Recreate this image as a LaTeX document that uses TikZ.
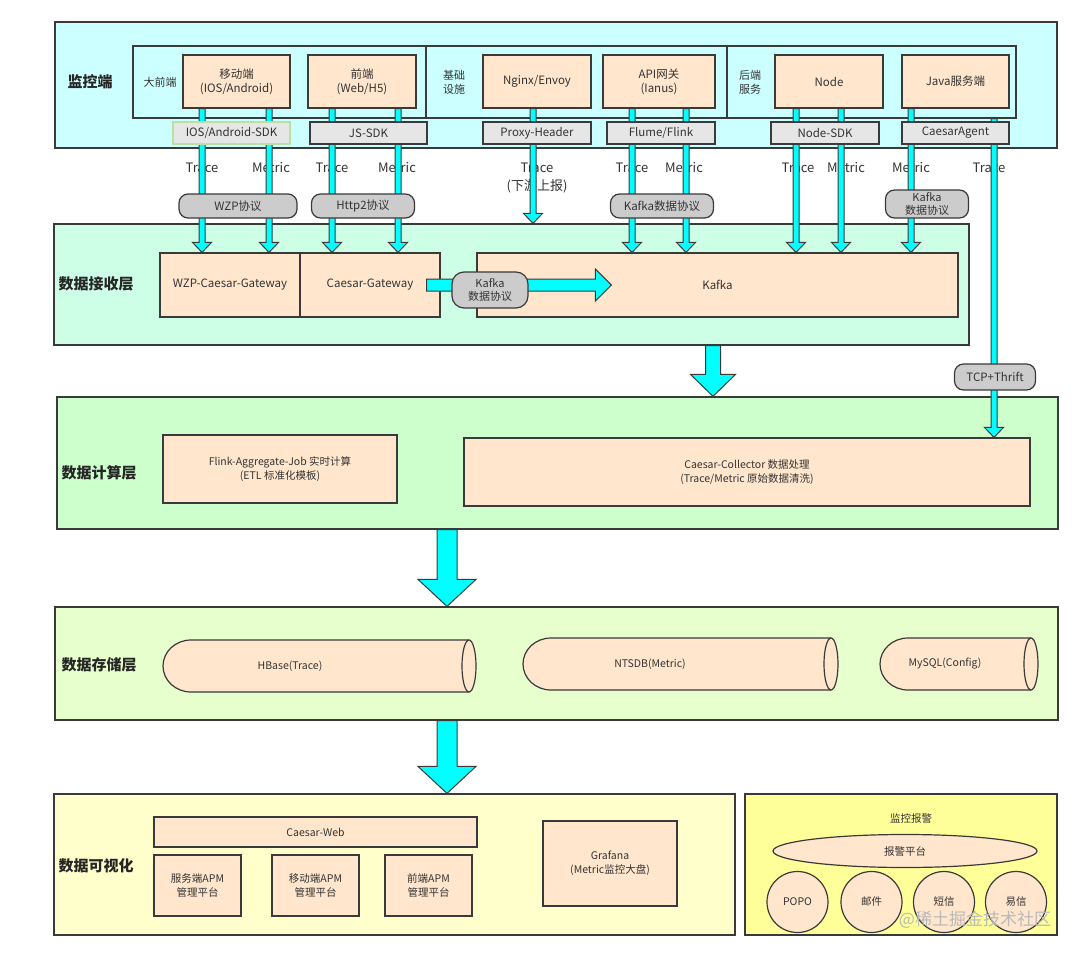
\documentclass[tikz,border=0pt]{standalone}
\usepackage{fontspec}
\setmainfont{Noto Sans CJK SC}
\usetikzlibrary{calc,shapes.geometric}
\definecolor{bd}{HTML}{3A3A3A}
\definecolor{lA}{HTML}{CCFFFF}
\definecolor{lB}{HTML}{CCFFE6}
\definecolor{lC}{HTML}{CCFFCC}
\definecolor{lD}{HTML}{E6FFCC}
\definecolor{lE}{HTML}{FFFFCC}
\definecolor{lF}{HTML}{FFFF99}
\definecolor{org}{HTML}{FFE6CC}
\definecolor{sdkc}{HTML}{E6E6E6}
\definecolor{pillc}{HTML}{CCCCCC}
\definecolor{cyc}{HTML}{00FFFF}
\definecolor{txt}{HTML}{333333}
\definecolor{sdkg}{HTML}{B9E0A5}
\newcommand\fA{\fontsize{11.5}{14}\selectfont}
\newcommand\fB{\fontsize{10.5}{13.5}\selectfont}
\newcommand\fT{\fontsize{15}{18}\selectfont\bfseries}
\newcommand\fL{\fontsize{13}{16}\selectfont}
% vertical block arrow: start, end, half shaft, half head, head length
\newcommand\varr[5]{%
  \filldraw[arr] let \p1=(#1), \p2=(#2) in
  (\x1-#3,\y1) -- (\x1+#3,\y1) -- (\x1+#3,\y2+#5) -- (\x1+#4,\y2+#5) --
  (\x1,\y2) -- (\x1-#4,\y2+#5) -- (\x1-#3,\y2+#5) -- cycle;}
% horizontal block arrow
\newcommand\harr[5]{%
  \filldraw[arr] let \p1=(#1), \p2=(#2) in
  (\x1,\y1+#3) -- (\x2-#5,\y1+#3) -- (\x2-#5,\y1+#4) -- (\x2,\y1) --
  (\x2-#5,\y1-#4) -- (\x2-#5,\y1-#3) -- (\x1,\y1-#3) -- cycle;}
% cylinder: name, x1, x2, ytop, ybot, text x, text
\newcommand\cyl[7]{%
  \pgfmathsetmacro\cyy{(#4+#5)/2}%
  \pgfmathsetmacro\ry{(#5-#4)/2}%
  \pgfmathsetmacro\xr{#3-7}%
  \pgfmathsetmacro\xl{#2+28}%
  \filldraw[cylst] (\xr,#4) -- (\xl,#4) .. controls (\xl-15.5,#4) and (#2,\cyy-0.5523*\ry) .. (#2,\cyy)
     .. controls (#2,\cyy+0.5523*\ry) and (\xl-15.5,#5) .. (\xl,#5) -- (\xr,#5);
  \filldraw[cylst] (\xr,\cyy) ellipse [x radius=7, y radius=\ry];
  \node[ctext] (#1) at (#6,\cyy) {#7};}
\begin{document}
\begin{tikzpicture}[x=1pt,y=-1pt,
  layer/.style={draw=bd, line width=1.2pt, inner sep=0pt},
  ttl/.style={font=\fT, text=black!85},
  obox/.style={draw=bd, fill=org, line width=1.2pt, inner sep=0pt, align=center, font=\fA, text=txt},
  sbox/.style={draw=bd, fill=org, line width=1.2pt, inner sep=0pt, align=center, font=\fB, text=txt},
  sdk/.style={draw=bd, fill=sdkc, line width=1.2pt, inner sep=0pt, align=center, font=\fA, text=txt, minimum height=22},
  pill/.style={draw=bd, fill=pillc, line width=1.2pt, rounded corners=9pt, inner sep=0pt, align=center, font=\fA, text=txt},
  lbl/.style={font=\fL, text=txt, inner sep=0pt},
  sml/.style={font=\fB, text=txt, align=center, inner sep=0pt},
  arr/.style={fill=cyc, draw=bd, line width=1pt, line join=miter},
  cylst/.style={fill=org, draw=bd, line width=1.2pt},
  ctext/.style={font=\fB, text=txt, inner sep=0pt},
  circ/.style={circle, draw=bd, fill=org, line width=1.2pt, minimum size=61, inner sep=0pt, font=\fB, text=txt}
]
\useasboundingbox (0,0) rectangle (1080,956);
\fill[white] (0,0) rectangle (1080,956);

% ---------- layers ----------
\node[layer, fill=lA, minimum width=1002, minimum height=126] (L1) at (556,85) {};
\node[layer, fill=lB, minimum width=915, minimum height=121] (L2) at (511.5,284.5) {};
\node[layer, fill=lC, minimum width=1001, minimum height=132] (L3) at (557.5,463) {};
\node[layer, fill=lD, minimum width=1003, minimum height=113] (L4) at (556.5,663.5) {};
\node[layer, fill=lE, minimum width=681, minimum height=141] (L5) at (394.5,864.5) {};
\node[layer, fill=lF, minimum width=312, minimum height=141] (L6) at (901,864.5) {};

\node[ttl] (t1) at (90,82) {监控端};
\node[ttl] (t2) at (96,284) {数据接收层};
\node[ttl] (t3) at (99,473) {数据计算层};
\node[ttl] (t4) at (99,665) {数据存储层};
\node[ttl] (t5) at (96,866) {数据可视化};

% ---------- layer 1 ----------
\node[layer, minimum width=883, minimum height=72] (inner) at (574.5,82) {};
\coordinate (d1) at (426,0);
\coordinate (d2) at (727,0);
\draw[bd, line width=1.2pt] (d1 |- inner.north) -- (d1 |- inner.south);
\draw[bd, line width=1.2pt] (d2 |- inner.north) -- (d2 |- inner.south);

\node[sml, font=\fontsize{11}{14}\selectfont] (g1) at (160,82) {大前端};
\node[sml, font=\fontsize{11}{14}\selectfont] (g2) at (454,82) {基础\\设施};
\node[sml, font=\fontsize{11}{14}\selectfont] (g3) at (750,82) {后端\\服务};

\node[obox, minimum width=107, minimum height=53] (mob) at (236.5,81.5) {移动端\\(IOS/Android)};
\node[obox, minimum width=108, minimum height=53] (web) at (362,81.5) {前端\\(Web/H5)};
\node[obox, minimum width=108, minimum height=53] (ngx) at (537,81.5) {Nginx/Envoy};
\node[obox, minimum width=112, minimum height=53] (api) at (659,81.5) {API网关\\(Ianus)};
\node[obox, minimum width=108, minimum height=53] (nod) at (829,81.5) {Node};
\node[obox, minimum width=107, minimum height=53] (jav) at (955.5,81.5) {Java服务端};

% labels
\node[lbl] (la1) at (202,168) {Trace};
\node[lbl] (la2) at (271,168) {Metric};
\node[lbl] (la3) at (332,168) {Trace};
\node[lbl] (la4) at (397,168) {Metric};
\node[lbl] (la5) at (537,168) {Trace};
\node[lbl] (la5b) at (537,186) {(下游上报)};
\node[lbl] (la6) at (632,168) {Trace};
\node[lbl] (la7) at (684,168) {Metric};
\node[lbl] (la8) at (798,168) {Trace};
\node[lbl] (la9) at (846,168) {Metric};
\node[lbl] (la10) at (911,168) {Metric};
\node[lbl] (la11) at (989,168) {Trace};

% ---------- layer 2 ----------
\node[obox, minimum width=140, minimum height=64] (wzpgw) at (230,285) {WZP-Caesar-Gateway};
\node[obox, minimum width=140, minimum height=64] (cgw) at (370,285) {Caesar-Gateway};
\node[obox, minimum width=481, minimum height=64] (kafka) at (717.5,285) {Kafka};

% ---------- layer 3 ----------
\node[sbox, minimum width=234, minimum height=68] (flink) at (280,469) {Flink-Aggregate-Job 实时计算\\(ETL 标准化模板)};
\node[sbox, minimum width=566, minimum height=68] (coll) at (747,472) {Caesar-Collector 数据处理\\(Trace/Metric 原始数据清洗)};

% ---------- layer 4 ----------
\cyl{hbase}{163}{476}{640}{692}{290}{HBase(Trace)}
\cyl{ntsdb}{523}{838}{638}{690}{650}{NTSDB(Metric)}
\cyl{mysql}{880}{1038}{638}{690}{945}{MySQL(Config)}

% ---------- layer 5 ----------
\node[sbox, minimum width=323, minimum height=30] (cweb) at (315.5,832) {Caesar-Web};
\node[sbox, minimum width=87, minimum height=61] (apm1) at (197.5,885.5) {服务端APM\\管理平台};
\node[sbox, minimum width=87, minimum height=61] (apm2) at (315.5,885.5) {移动端APM\\管理平台};
\node[sbox, minimum width=87, minimum height=61] (apm3) at (428.5,885.5) {前端APM\\管理平台};
\node[sbox, minimum width=134, minimum height=85] (graf) at (610,863.5) {Grafana\\(Metric监控大盘)};

% ---------- layer 6 ----------
\node[sml] (t6) at (911,819) {监控报警};
\node[draw=bd, fill=org, line width=1.2pt, ellipse, minimum width=264, minimum height=33, inner sep=0pt, font=\fB, text=txt] (alarm) at (905,851) {报警平台};
\node[circ] (c1) at (797.5,902) {POPO};
\node[circ] (c2) at (871.5,902) {邮件};
\node[circ] (c3) at (944,902) {短信};
\node[circ] (c4) at (1016,902) {易信};

% ---------- thin arrows ----------
\coordinate (cA) at (202,0);
\coordinate (cB) at (269,0);
\coordinate (cC) at (332,0);
\coordinate (cD) at (398,0);
\coordinate (cE) at (533,0);
\coordinate (cF) at (632,0);
\coordinate (cG) at (686,0);
\coordinate (cH) at (796,0);
\coordinate (cI) at (841,0);
\coordinate (cJ) at (911,0);
\coordinate (cK) at (994,0);
\varr{cA |- mob.south}{cA |- wzpgw.north}{3pt}{9.5pt}{10pt}
\varr{cB |- mob.south}{cB |- wzpgw.north}{3pt}{9.5pt}{10pt}
\varr{cC |- web.south}{cC |- cgw.north}{3pt}{9.5pt}{10pt}
\varr{cD |- web.south}{cD |- cgw.north}{3pt}{9.5pt}{10pt}
\varr{cE |- ngx.south}{cE |- L2.north}{3pt}{9.5pt}{10pt}
\varr{cF |- api.south}{cF |- kafka.north}{3pt}{9.5pt}{10pt}
\varr{cG |- api.south}{cG |- kafka.north}{3pt}{9.5pt}{10pt}
\varr{cH |- nod.south}{cH |- kafka.north}{3pt}{9.5pt}{10pt}
\varr{cI |- nod.south}{cI |- kafka.north}{3pt}{9.5pt}{10pt}
\varr{cJ |- jav.south}{cJ |- kafka.north}{3pt}{9.5pt}{10pt}
\varr{cK |- inner.south}{cK |- coll.north}{3pt}{9.5pt}{10pt}

% SDK boxes over the shafts
\node[sdk, draw=sdkg, minimum width=117] (sM) at (231.5,133) {IOS/Android-SDK};
\node[sdk, minimum width=117] (sJ) at (368.5,133) {JS-SDK};
\node[sdk, minimum width=108] (sP) at (537,133) {Proxy-Header};
\node[sdk, minimum width=108] (sF) at (661,133) {Flume/Flink};
\node[sdk, minimum width=108] (sN) at (825,133) {Node-SDK};
\node[sdk, minimum width=107] (sC) at (955.5,133) {CaesarAgent};

% horizontal arrow to Kafka
\coordinate (hs) at ([xshift=-14pt]cgw.east);
\coordinate (he) at ([xshift=135pt]kafka.west);
\harr{hs}{he}{6pt}{16pt}{16pt}

% big arrows between layers
\coordinate (b1) at (713,0);
\coordinate (b2) at (447,0);
\varr{b1 |- L2.south}{b1 |- L3.north}{7.5pt}{22.5pt}{22pt}
\varr{b2 |- L3.south}{b2 |- L4.north}{10pt}{29pt}{27pt}
\varr{b2 |- L4.south}{b2 |- L5.north}{10pt}{29pt}{27pt}

% ---------- pills ----------
\node[pill, minimum width=118, minimum height=24] (p1) at (238,206) {WZP协议};
\node[pill, minimum width=103, minimum height=24] (p2) at (363,206) {Http2协议};
\node[pill, minimum width=103, minimum height=24] (p3) at (662,206) {Kafka数据协议};
\node[pill, minimum width=83, minimum height=28, font=\fontsize{11}{12.5}\selectfont] (p4) at (927,204) {Kafka\\数据协议};
\node[pill, rounded corners=12pt, minimum width=76, minimum height=36, font=\fontsize{11}{13}\selectfont] (p5) at (490,290) {Kafka\\数据协议};
\node[pill, minimum width=81, minimum height=26] (p6) at (995,377) {TCP+Thrift};

% watermark
\node[text=gray!55, font=\fontsize{17}{20}\selectfont, inner sep=0pt] (wm) at (975,920) {@稀土掘金技术社区};
\end{tikzpicture}
\end{document}
